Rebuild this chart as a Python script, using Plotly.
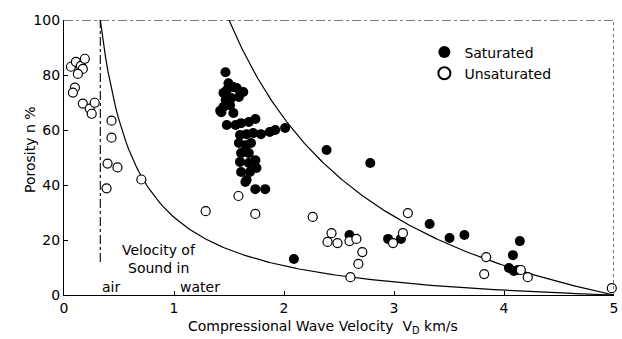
import numpy as np
import plotly.graph_objects as go

# Porosity vs compressional wave velocity for saturated and unsaturated samples
sat_v = [1.468, 1.495, 1.45, 1.48, 1.54, 1.57, 1.63, 1.47, 1.52, 1.59, 1.45, 1.51,
         1.42, 1.43, 1.54, 1.48, 1.56, 1.61, 1.68, 1.74, 1.60, 1.66, 1.72, 1.79,
         1.87, 1.92, 2.01, 1.59, 1.65, 1.70, 1.61, 1.68, 1.60, 1.68, 1.74, 1.61,
         1.69, 1.75, 1.66, 1.649, 1.739, 1.829, 2.09, 2.387, 2.784, 2.595, 2.946,
         3.063, 3.324, 3.505, 3.64, 4.144, 4.081, 4.045, 4.09, 4.126]
sat_n = [81, 77, 73.5, 74.5, 75.6, 75.3, 73.8, 70.9, 71.6, 72, 68.4, 69,
         67, 66.5, 66.2, 61.8, 61.8, 62.5, 62.9, 64, 58.2, 58.5, 58.9, 58.5,
         59.3, 60, 60.7, 55.3, 54.5, 55.3, 51.6, 51.6, 48.4, 48, 49, 44.7,
         44.7, 46.2, 41.8, 41.1, 38.5, 38.5, 13.1, 52.7, 48.0, 21.8, 20.4,
         20.4, 25.8, 20.7, 21.8, 19.6, 14.5, 9.8, 8.7, 9.1]

unsat_v = [0.063, 0.108, 0.153, 0.189, 0.171, 0.126, 0.099, 0.081, 0.171, 0.234,
           0.252, 0.279, 0.432, 0.432, 0.396, 0.486, 0.703, 0.387, 1.586, 1.288,
           1.739, 2.261, 2.432, 2.396, 2.486, 2.595, 2.658, 2.712, 2.676, 2.604,
           3.126, 3.081, 2.991, 3.838, 3.82, 4.153, 4.216, 4.98]
unsat_n = [83, 84.8, 83.3, 85.9, 82.2, 80.4, 75.4, 73.6, 69.6, 67.8,
           65.9, 69.9, 63.4, 57.2, 47.8, 46.4, 42.0, 38.8, 36, 30.5,
           29.5, 28.4, 22.5, 19.3, 18.9, 19.6, 20.4, 15.6, 11.3, 6.5,
           29.8, 22.5, 18.9, 13.8, 7.6, 9.1, 6.5, 2.5]

# Sound velocities (km/s) used for the time-average bounds
v_air = 0.33
v_water = 1.5
v_solid = 5.0


def time_average(v_fluid, v_matrix):
    v = np.linspace(v_fluid, v_matrix, 200)
    n = (1 / v - 1 / v_matrix) / (1 / v_fluid - 1 / v_matrix) * 100
    return v, n


FONT = "DejaVu Sans"
fig = go.Figure()

for vf in (v_air, v_water):
    cv, cn = time_average(vf, v_solid)
    fig.add_trace(go.Scatter(x=cv, y=cn, mode="lines", showlegend=False,
                             line=dict(color="black", width=1.2),
                             hoverinfo="skip"))

fig.add_trace(go.Scatter(x=sat_v, y=sat_n, mode="markers", name="Saturated",
                         marker=dict(symbol="circle", size=10, color="black",
                                     line=dict(width=0)),
                         cliponaxis=False))
fig.add_trace(go.Scatter(x=unsat_v, y=unsat_n, mode="markers", name="Unsaturated",
                         marker=dict(symbol="circle", size=9, color="white",
                                     line=dict(color="black", width=1.2)),
                         cliponaxis=False))

# velocity of sound in air marker line
fig.add_shape(type="line", xref="x", yref="y", x0=v_air, x1=v_air, y0=12, y1=100,
              line=dict(color="black", width=1.1, dash="dashdot"))
# sparse frame on top and right
fig.add_shape(type="line", xref="x", yref="y", x0=0, x1=5, y0=100, y1=100,
              line=dict(color="black", width=1.1, dash="dashdot"))
fig.add_shape(type="line", xref="x", yref="y", x0=5, x1=5, y0=0, y1=100,
              line=dict(color="black", width=1.1, dash="dot"))

anno = [
    dict(x=0.86, y=16.4, text="Velocity of"),
    dict(x=0.86, y=9.8, text="Sound in"),
    dict(x=0.43, y=3, text="air"),
    dict(x=1.24, y=3, text="water"),
]
for a in anno:
    fig.add_annotation(x=a["x"], y=a["y"], xref="x", yref="y", text=a["text"],
                       showarrow=False, font=dict(family=FONT, size=14,
                                                  color="black"))

fig.add_annotation(x=(325 - 64) / 554, y=-0.115, xref="paper", yref="paper",
                   text="Compressional Wave Velocity  V<sub>D</sub> km/s",
                   showarrow=False, yanchor="middle",
                   font=dict(family=FONT, size=14, color="black"))
fig.add_annotation(x=-0.08, y=(295 - 150) / 275, xref="paper", yref="paper",
                   text="Porosity n %", textangle=-90, showarrow=False,
                   font=dict(family=FONT, size=14, color="black"))

fig.update_xaxes(range=[0, 5], tickvals=[0, 1, 2, 3, 4, 5], ticks="inside",
                 ticklen=4, tickcolor="black", showline=True, linecolor="black",
                 linewidth=1.3, showgrid=False, zeroline=False,
                 ticklabeloverflow="allow",
                 tickfont=dict(family=FONT, size=14, color="black"))
fig.update_yaxes(range=[0, 100], tickvals=[0, 20, 40, 60, 80, 100], ticks="inside",
                 ticklen=4, tickcolor="black", showline=True, linecolor="black",
                 linewidth=1.3, showgrid=False, zeroline=False,
                 ticklabeloverflow="allow",
                 tickfont=dict(family=FONT, size=14, color="black"))

fig.update_layout(
    width=622, height=339,
    margin=dict(l=64, r=4, t=20, b=44),
    plot_bgcolor="white", paper_bgcolor="white",
    font=dict(family=FONT, size=14, color="black"),
    legend=dict(x=(427 - 64) / 554, y=0.94, xanchor="left", yanchor="top",
                bgcolor="rgba(0,0,0,0)", font=dict(family=FONT, size=14),
                tracegroupgap=0, itemsizing="constant"),
)

fig.write_html("out.html")
